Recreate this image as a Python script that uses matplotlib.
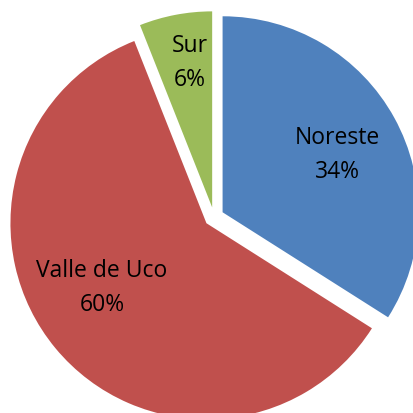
import matplotlib
matplotlib.use("Agg")
import matplotlib.pyplot as plt

categories = ["Noreste", "Valle de Uco", "Sur"]
values = [34, 60, 6]
colors = ["#4F81BD", "#C0504D", "#9BBB59"]

# label positions in pixels (x from left, y from top)
label_px = [(337, 155), (102, 288), (190, 63)]

W = H = 414
fig = plt.figure(figsize=(W / 100, H / 100), dpi=100)
ax = fig.add_axes([0, 0, 1, 1])
R = 196.0
cx, cy = 214.0, 218.0
ax.pie(values, colors=colors, startangle=90, counterclock=False,
       explode=[0.05, 0.05, 0.05], radius=1.0,
       wedgeprops=dict(linewidth=0))
ax.set_xlim(-cx / R, (W - cx) / R)
ax.set_ylim(-(H - cy) / R, cy / R)
ax.set_aspect("equal")
ax.axis("off")

for cat, val, (px, py) in zip(categories, values, label_px):
    ax.text(px / W, 1 - py / H, f"{cat}\n{val}%", transform=ax.transAxes,
            ha="center", va="center", fontsize=16.5, family="Open Sans",
            linespacing=1.6, color="black")

fig.savefig("out.png", dpi=100)
